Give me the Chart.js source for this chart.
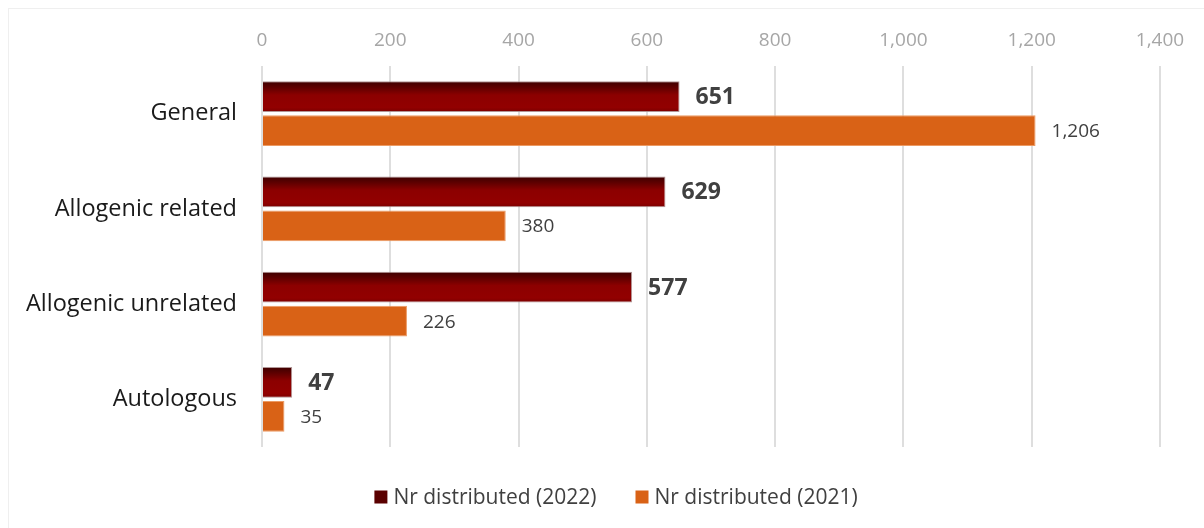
<!DOCTYPE html>
<html>
<head>
<meta charset="utf-8">
<script src="https://cdn.jsdelivr.net/npm/chart.js@4.4.1/dist/chart.umd.min.js"></script>
<style>
html,body{margin:0;padding:0;background:#fff;}
#wrap{position:relative;width:1204px;height:528px;}
</style>
</head>
<body>
<div id="wrap"><canvas id="c" width="1204" height="528"></canvas></div>
<script>
const categories = ["General", "Allogenic related", "Allogenic unrelated", "Autologous"];
const values2022 = [651, 629, 577, 47];
const values2021 = [1206, 380, 226, 35];
const seriesNames = ["Nr distributed (2022)", "Nr distributed (2021)"];
const tickMax = 1400;
const tickStep = 200;

const FONT = "'Open Sans', sans-serif";
const CAT_PCT = 0.714;
const BAR_PCT = 0.91;

function darkRedFill(ctx) {
  const chart = ctx.chart;
  const ys = chart.scales && chart.scales.y;
  if (!ys || ctx.type !== 'data' || !isFinite(ys.height) || ys.height <= 0) return '#8b0000';
  const band = ys.height / categories.length;
  const center = ys.getPixelForValue(ctx.dataIndex);
  const chunk = band * CAT_PCT / 2;
  const pad = chunk * (1 - BAR_PCT) / 2;
  const top = center - chunk + pad;
  const bottom = center - pad;
  const g = chart.ctx.createLinearGradient(0, top, 0, bottom);
  g.addColorStop(0, '#3c0000');
  g.addColorStop(0.2, '#5e0000');
  g.addColorStop(0.45, '#8c0000');
  g.addColorStop(0.85, '#920000');
  g.addColorStop(1, '#7a0000');
  return g;
}

const frame = {
  id: 'frame',
  beforeDraw(chart) {
    const c = chart.ctx;
    c.save();
    c.fillStyle = '#fff';
    c.fillRect(0, 0, chart.width, chart.height);
    c.strokeStyle = '#efefef';
    c.lineWidth = 1;
    c.strokeRect(8.5, 8.5, chart.width - 8, chart.height - 8);
    c.restore();
  }
};

const labels = {
  id: 'valueLabels',
  afterDatasetsDraw(chart) {
    const c = chart.ctx;
    c.save();
    c.textBaseline = 'middle';
    c.textAlign = 'left';
    chart.data.datasets.forEach((ds, di) => {
      const meta = chart.getDatasetMeta(di);
      meta.data.forEach((bar, i) => {
        const v = ds.data[i];
        c.fillStyle = '#404040';
        if (di === 0) {
          c.font = "bold 23px " + FONT;
          c.fillText(v.toLocaleString('en-US'), bar.x + 16, bar.y + 1);
        } else {
          c.font = "19px " + FONT;
          c.fillText(v.toLocaleString('en-US'), bar.x + 16, bar.y + 1);
        }
      });
    });
    c.restore();
  }
};

const legendSwatches = ['#5a0000', '#d96216'];
const customLegend = {
  id: 'customLegend',
  afterDraw(chart) {
    const c = chart.ctx;
    c.save();
    c.font = "21px " + FONT;
    c.textBaseline = 'middle';
    c.textAlign = 'left';
    const box = 13, gapText = 6, gapItem = 39;
    const widths = chart.data.datasets.map(ds => c.measureText(ds.label).width);
    let total = 0;
    widths.forEach((w, i) => { total += box + gapText + w + (i ? gapItem : 0); });
    let x = 616 - total / 2;
    const y = 497;
    chart.data.datasets.forEach((ds, i) => {
      c.fillStyle = legendSwatches[i];
      c.fillRect(x, y - box / 2, box, box);
      x += box + gapText;
      c.fillStyle = '#404040';
      c.fillText(ds.label, x, y + 1);
      x += widths[i] + gapItem;
    });
    c.restore();
  }
};

new Chart(document.getElementById('c'), {
  type: 'bar',
  data: {
    labels: categories,
    datasets: [
      {
        label: seriesNames[0],
        data: values2022,
        backgroundColor: darkRedFill,
        borderColor: 'rgba(170,140,140,0.9)',
        borderWidth: 1,
        categoryPercentage: CAT_PCT,
        barPercentage: BAR_PCT
      },
      {
        label: seriesNames[1],
        data: values2021,
        backgroundColor: '#d96216',
        borderColor: '#ec9a63',
        borderWidth: 1,
        categoryPercentage: CAT_PCT,
        barPercentage: BAR_PCT
      }
    ]
  },
  options: {
    indexAxis: 'y',
    responsive: false,
    animation: false,
    devicePixelRatio: 1,
    layout: { padding: { top: 0, left: 0, right: 44, bottom: 81 } },
    scales: {
      x: {
        position: 'top',
        min: 0,
        max: tickMax,
        ticks: {
          stepSize: tickStep,
          color: '#a6a6a6',
          font: { family: FONT, size: 19 },
          padding: 14,
          callback: v => v.toLocaleString('en-US')
        },
        grid: { color: '#dedede', lineWidth: 2, drawTicks: false },
        border: { display: false },
        afterFit(s) { s.height = 66; }
      },
      y: {
        ticks: {
          color: '#1a1a1a',
          font: { family: FONT, size: 23.5 },
          padding: 25
        },
        grid: { display: false, drawTicks: false },
        border: { display: false },
        afterFit(s) { s.width = 262; }
      }
    },
    plugins: {
      legend: { display: false },
      tooltip: { enabled: false }
    }
  },
  plugins: [frame, labels, customLegend]
});
</script>
</body>
</html>
